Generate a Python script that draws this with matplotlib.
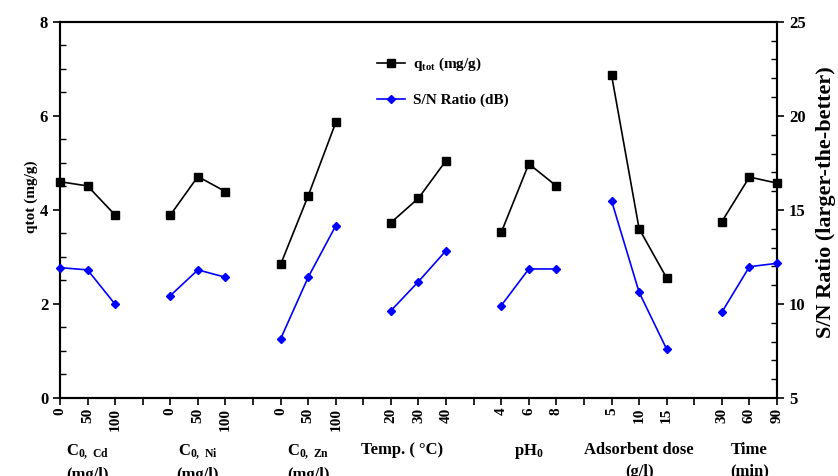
import matplotlib
matplotlib.use("Agg")
import matplotlib.pyplot as plt
from matplotlib.transforms import blended_transform_factory

# factor groups, their levels and x-axis captions
groups = ["Cd", "Ni", "Zn", "Temp", "pH", "Dose", "Time"]
levels = [["0", "50", "100"], ["0", "50", "100"], ["0", "50", "100"],
          ["20", "30", "40"], ["4", "6", "8"], ["5", "10", "15"],
          ["30", "60", "90"]]
captions = [r"C$_{\mathrm{0,\ Cd}}$" + "\n(mg/l)",
            r"C$_{\mathrm{0,\ Ni}}$" + "\n(mg/l)",
            r"C$_{\mathrm{0,\ Zn}}$" + "\n(mg/l)",
            "Temp. ( °C)",
            r"pH$_{\mathrm{0}}$",
            "Adsorbent dose\n(g/l)",
            "Time\n(min)"]

# mean q_tot (mg/g) for every level
q_tot = [[4.60, 4.51, 3.89],
         [3.89, 4.71, 4.39],
         [2.84, 4.30, 5.86],
         [3.73, 4.25, 5.05],
         [3.52, 4.98, 4.51],
         [6.87, 3.60, 2.55],
         [3.75, 4.70, 4.57]]

# S/N ratio (dB) for every level
sn_ratio = [[11.93, 11.81, 9.98],
            [10.44, 11.81, 11.42],
            [8.14, 11.42, 14.16],
            [9.64, 11.19, 12.84],
            [9.91, 11.86, 11.86],
            [15.49, 10.62, 7.59],
            [9.56, 11.98, 12.16]]

plt.rcParams['font.family'] = ['Liberation Serif', 'DejaVu Serif']
plt.rcParams['font.weight'] = 'bold'
plt.rcParams['mathtext.fontset'] = 'custom'
plt.rcParams['mathtext.rm'] = 'Liberation Serif:bold'
plt.rcParams['mathtext.bf'] = 'Liberation Serif:bold'
plt.rcParams['mathtext.it'] = 'Liberation Serif:bold'

fig = plt.figure(figsize=(8.38, 4.76), dpi=100)
ax = fig.add_axes([0.0716, 0.164, 0.8556, 0.790])
ax2 = ax.twinx()

tick_pos, tick_lab = [], []
for g in range(len(groups)):
    xs = [g * 4 + j for j in range(3)]
    l1, = ax.plot(xs, q_tot[g], color='black', marker='s', markersize=5.5,
                  lw=1.2, clip_on=False, zorder=3)
    l2, = ax2.plot(xs, sn_ratio[g], color='#0000ff', marker='D', markersize=4.5,
                   lw=1.2, clip_on=False, zorder=3)
    tick_pos += xs
    tick_lab += levels[g]
    if g < len(groups) - 1:
        tick_pos.append(g * 4 + 3)
        tick_lab.append("")

ax.set_xlim(0, 26)
ax.set_ylim(0, 8)
ax2.set_ylim(5, 25)
ax.set_xticks(tick_pos)
ax.set_xticklabels(tick_lab, rotation=90, fontsize=11, fontweight='bold')
ax.set_yticks([0, 2, 4, 6, 8])
ax.set_yticks([i * 0.5 for i in range(17)], minor=True)
ax2.set_yticks([5, 10, 15, 20, 25])
ax2.set_yticks(range(5, 26), minor=True)

ax.tick_params(axis='x', direction='out', length=5, width=1.2, pad=2)
ax.tick_params(axis='y', which='major', direction='out', length=5, width=1.2,
               labelsize=12)
ax.tick_params(axis='y', which='minor', direction='in', length=4, width=1.0)
ax2.tick_params(axis='y', which='major', direction='out', length=5, width=1.2,
                labelsize=12)
ax2.tick_params(axis='y', which='minor', direction='in', length=4, width=1.0)
for lab in ax.get_yticklabels() + ax2.get_yticklabels():
    lab.set_fontweight('bold')
for a in (ax, ax2):
    for s in a.spines.values():
        s.set_linewidth(1.5)

ax.set_ylabel("qtot (mg/g)", fontsize=11, fontweight='bold')
ax.yaxis.set_label_coords(-0.030, 0.535)
ax2.set_ylabel("S/N Ratio (larger-the-better)", fontsize=16,
               fontweight='bold')
ax2.yaxis.set_label_coords(1.055, 0.52)

trans = blended_transform_factory(ax.transData, ax.transAxes)
cap_x = [1, 5, 9, 12.4, 17, 21, 25]
for x, c in zip(cap_x, captions):
    ax.text(x, -0.118, c, transform=trans, ha='center', va='top',
            fontsize=12, fontweight='bold', linespacing=1.45)

fig.legend([l1, l2], [r"q$_{\mathrm{tot}}$ (mg/g)", "S/N Ratio (dB)"],
           loc='upper left', bbox_to_anchor=(0.434, 0.911), frameon=False,
           fontsize=11, handlelength=1.8, labelspacing=1.3, handletextpad=0.5)

fig.savefig("out.png", dpi=100)
